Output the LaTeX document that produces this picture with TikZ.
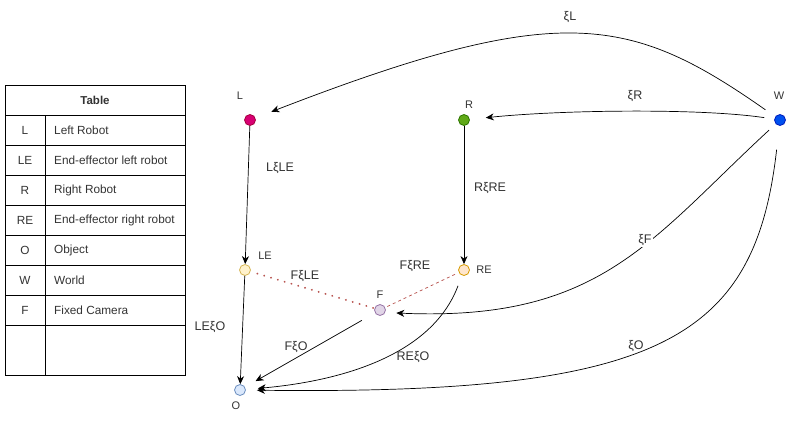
\documentclass[tikz,border=0pt]{standalone}
\usepackage{fontspec}
\setmainfont{Liberation Sans}
\usetikzlibrary{arrows.meta}
\definecolor{cL}{HTML}{D80073}\definecolor{cLs}{HTML}{A50040}
\definecolor{cR}{HTML}{60A917}\definecolor{cRs}{HTML}{2D7600}
\definecolor{cW}{HTML}{0050EF}\definecolor{cWs}{HTML}{001DBC}
\definecolor{cLE}{HTML}{FFF2CC}\definecolor{cLEs}{HTML}{D6B656}
\definecolor{cRE}{HTML}{FFE6CC}\definecolor{cREs}{HTML}{D79B00}
\definecolor{cF}{HTML}{E1D5E7}\definecolor{cFs}{HTML}{9673A6}
\definecolor{cO}{HTML}{DAE8FC}\definecolor{cOs}{HTML}{6C8EBF}
\definecolor{cRed}{HTML}{B85450}
\definecolor{txt}{HTML}{333333}
\tikzset{
  pt/.style={circle,minimum size=11pt,inner sep=0pt,line width=0.8pt},
  lbl/.style={font=\fontsize{11}{13}\selectfont,text=txt,inner sep=1pt},
  elbl/.style={font=\fontsize{12.5}{14}\selectfont,text=txt,inner sep=1pt},
  tbl/.style={font=\fontsize{11.8}{13}\selectfont,text=txt,inner sep=0pt},
  conn/.style={line width=0.7pt,-{Stealth[length=8pt,width=7pt,inset=2.5pt]}},
}
\begin{document}
\begin{tikzpicture}[x=1pt,y=-1pt]
\useasboundingbox (0,0) rectangle (801,421);
% table
\draw[line width=0.8pt] (5,85) rectangle (185,375);
\foreach \yy in {115,145,175,205,235,265,295,325}
  \draw[line width=0.8pt] (5,\yy) -- (185,\yy);
\draw[line width=0.8pt] (45,115) -- (45,375);
\node[tbl,font=\fontsize{11.5}{13}\selectfont\bfseries] (th) at (95,100) {Table};
\node[tbl] (k1) at (25,130) {L};
\node[tbl,anchor=west] (v1) at (54,130) {Left Robot};
\node[tbl] (k2) at (25,160) {LE};
\node[tbl,anchor=west] (v2) at (54,160) {End-effector left robot};
\node[tbl] (k3) at (25,190) {R};
\node[tbl,anchor=west] (v3) at (54,190) {Right Robot};
\node[tbl] (k4) at (25,220) {RE};
\node[tbl,anchor=west] (v4) at (54,220) {End-effector right robot};
\node[tbl] (k5) at (25,250) {O};
\node[tbl,anchor=west] (v5) at (54,250) {Object};
\node[tbl] (k6) at (25,280) {W};
\node[tbl,anchor=west] (v6) at (54,280) {World};
\node[tbl] (k7) at (25,310) {F};
\node[tbl,anchor=west] (v7) at (54,310) {Fixed Camera};
% points
\node[pt,fill=cL,draw=cLs] (L) at (250,120) {};
\node[pt,fill=cR,draw=cRs] (R) at (464,120) {};
\node[pt,fill=cW,draw=cWs] (W) at (780,120) {};
\node[pt,fill=cLE,draw=cLEs] (LE) at (245,270) {};
\node[pt,fill=cRE,draw=cREs] (RE) at (464,270) {};
\node[pt,fill=cF,draw=cFs] (F) at (380,310) {};
\node[pt,fill=cO,draw=cOs] (O) at (240,390) {};
% point labels
\node[lbl] (tL) at (240,96) {L};
\node[lbl] (tR) at (469,105) {R};
\node[lbl] (tW) at (779,96) {W};
\node[lbl] (tLE) at (265,256) {LE};
\node[lbl] (tRE) at (484,270) {RE};
\node[lbl] (tF) at (380,295) {F};
\node[lbl] (tO) at (236,406) {O};
% connectors
\draw[conn,shorten <=12pt,shorten >=17pt] (W) .. controls (630,15) and (560,0) .. (L);
\draw[conn,shorten <=10pt,shorten >=16pt] (W) .. controls (700,108) and (560,110) .. (R);
\draw[conn] (L) -- (LE);
\draw[conn] (R) -- (RE);
\draw[conn] (LE) -- (O);
\draw[cRed,line width=2pt,line cap=round,dash pattern=on 0.1pt off 7pt,shorten <=7pt,shorten >=1pt] (LE) -- (F);
\draw[cRed,line width=0.7pt,dash pattern=on 3pt off 3pt,shorten <=4pt] (RE) -- (F);
\draw[conn,shorten <=9pt,shorten >=11pt] (W) .. controls (650,240) and (600,322) .. (F.-25);
\draw[conn,shorten <=24pt,shorten >=11pt] (W) .. controls (755,340) and (660,395) .. (O);
\draw[conn,shorten <=15pt,shorten >=12pt] (F) -- (O);
\draw[conn,shorten <=11pt,shorten >=12pt] (RE) .. controls (430,360) and (330,382) .. (O);
% edge labels
\node[elbl] (eL) at (570,17) {ξL};
\node[elbl] (eR) at (635,96) {ξR};
\node[elbl] (eLLE) at (280,168) {LξLE};
\node[elbl] (eRRE) at (490,188) {RξRE};
\node[elbl] (eLEO) at (210,327) {LEξO};
\node[elbl] (eFLE) at (305,276) {FξLE};
\node[elbl] (eFRE) at (415,266) {FξRE};
\node[elbl,fill=white] (eF) at (645,240) {ξF};
\node[elbl] (eO) at (636,346) {ξO};
\node[elbl] (eFO) at (296,347) {FξO};
\node[elbl] (eREO) at (413,357) {REξO};
\end{tikzpicture}
\end{document}
